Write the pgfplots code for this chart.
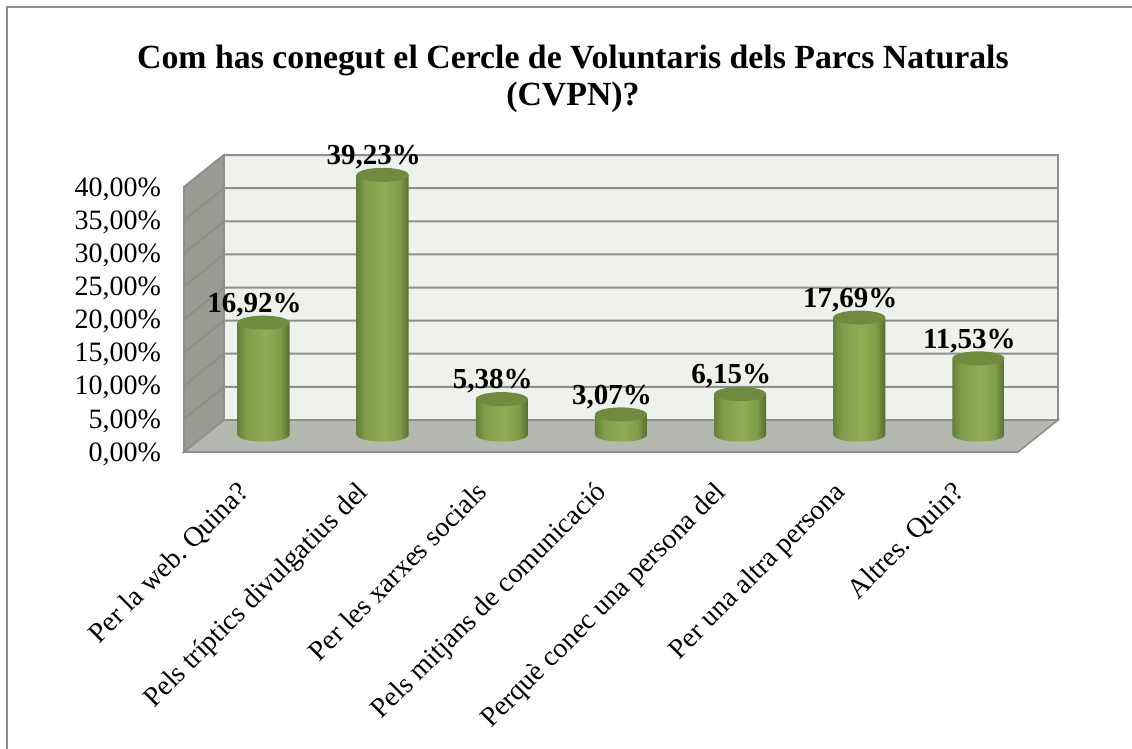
\documentclass[border=0pt]{standalone}
\usepackage{fontspec}
\setmainfont{Liberation Serif}
\usepackage{pgfplots}
\usepackage{pgfplotstable}
\pgfplotsset{compat=1.18}
\definecolor{wallback}{HTML}{EFF2EC}
\definecolor{wallside}{HTML}{9A9C94}
\definecolor{floorgray}{HTML}{B5B8B0}
\definecolor{edgegray}{HTML}{8E8F8B}
\definecolor{cylleft}{HTML}{64803A}
\definecolor{cylmid}{HTML}{7F9D4A}
\definecolor{cyllight}{HTML}{8FAE55}
\definecolor{cylright}{HTML}{566C2E}
\definecolor{cyltop}{HTML}{6F8B40}
\pgfdeclarehorizontalshading{cylgrad}{100bp}{color(0bp)=(cylleft); color(25bp)=(cylleft); color(33bp)=(cylmid); color(52bp)=(cyllight); color(66bp)=(cylmid); color(75bp)=(cylright); color(100bp)=(cylright)}

% values in percent, one per answer
\pgfplotstableread{
pos val
0 16.92
1 39.23
2 5.38
3 3.07
4 6.15
5 17.69
6 11.53
}\answers

% cylinder hanging below its data point, half way into the depth of the box
\pgfdeclareplotmark{cyl}{%
  \pgfmathsetmacro{\b}{8.63-\val*3.3125}%
  \begin{scope}[cm={1,0.087,0,1,(0,0)}]
    \path[draw=none,shading=cylgrad]
      (-3pt,8.63pt) -- (-3pt,\b pt)
      arc[start angle=180,end angle=360,x radius=13pt,y radius=3.5pt]
      -- (23pt,8.63pt) -- cycle;
    \path[draw=none,fill=cyltop] (10pt,8.63pt) ellipse[x radius=13pt,y radius=3.5pt];
  \end{scope}%
}

\begin{document}
\frenchspacing
\begin{tikzpicture}
  \path[use as bounding box] (0pt,0pt) rectangle (566pt,374.5pt);
  \draw[edgegray,line width=1.25pt] (3.5pt,-2pt) -- (3.5pt,371pt) -- (568pt,371pt);
  \begin{axis}[
      at={(92pt,148.5pt)},
      anchor=south west,
      scale only axis,
      width=417pt,
      height=132.5pt,
      xmin=-0.5, xmax=6.5,
      ymin=0, ymax=40,
      clip=false,
      axis line style={draw=none},
      tick style={draw=none},
      xtick={0,1,2,3,4,5,6},
      xticklabels={Per la web. Quina?,Pels tríptics divulgatius del,Per les xarxes socials,Pels mitjans de comunicació,Perquè conec una persona del,Per una altra persona,Altres. Quin?},
      xticklabel style={rotate=45,anchor=north east,font=\fontsize{14}{16}\selectfont,xshift=-8.8pt,yshift=-3.8pt},
      ytick={0,5,10,15,20,25,30,35,40},
      yticklabel={\pgfmathprintnumber{\tick}\%},
      yticklabel style={font=\fontsize{14}{16}\selectfont,xshift=-8pt,yshift=-1pt,/pgf/number format/.cd,assume math mode=true,use comma,fixed,fixed zerofill,precision=2},
      title={Com has conegut el Cercle de Voluntaris dels Parcs Naturals\\(CVPN)?},
      title style={font=\bfseries\fontsize{16.9}{18.5}\selectfont,align=center,at={(axis description cs:0.4664,1.21)},anchor=south},
    ]
    % box
    \addplot[fill=wallback,draw=edgegray,line width=0.8pt] coordinates {(-0.1643,4.83) (6.8357,4.83) (6.8357,44.83) (-0.1643,44.83)} -- cycle;
    \addplot[fill=wallside,draw=edgegray,line width=0.8pt] coordinates {(-0.5,0) (-0.1643,4.83) (-0.1643,44.83) (-0.5,40)} -- cycle;
    % grid on the two walls
    \addplot[edgegray,line width=1pt] coordinates {(-0.5,5) (-0.1643,9.83) (6.8357,9.83)};
    \addplot[edgegray,line width=1pt] coordinates {(-0.5,10) (-0.1643,14.83) (6.8357,14.83)};
    \addplot[edgegray,line width=1pt] coordinates {(-0.5,15) (-0.1643,19.83) (6.8357,19.83)};
    \addplot[edgegray,line width=1pt] coordinates {(-0.5,20) (-0.1643,24.83) (6.8357,24.83)};
    \addplot[edgegray,line width=1pt] coordinates {(-0.5,25) (-0.1643,29.83) (6.8357,29.83)};
    \addplot[edgegray,line width=1pt] coordinates {(-0.5,30) (-0.1643,34.83) (6.8357,34.83)};
    \addplot[edgegray,line width=1pt] coordinates {(-0.5,35) (-0.1643,39.83) (6.8357,39.83)};
    \addplot[edgegray,line width=1pt] coordinates {(-0.5,40) (-0.1643,44.83) (6.8357,44.83)};
    % floor
    \addplot[fill=floorgray,draw=edgegray,line width=0.8pt] coordinates {(-0.5,0) (6.5,0) (6.8357,4.83) (-0.1643,4.83)} -- cycle;
    % cylinders with their labels
    \addplot[
      scatter,
      only marks,
      mark=cyl,
      point meta=y,
      visualization depends on={rawy \as \val},
      nodes near coords={\pgfmathprintnumber[assume math mode=true,use comma,fixed,fixed zerofill,precision=2]{\pgfplotspointmeta}\%},
      every node near coord/.append style={anchor=center,xshift=5.5pt,yshift=17.5pt,font=\bfseries\fontsize{14.5}{16}\selectfont,text=black},
    ] table[x=pos,y=val] {\answers};
  \end{axis}
\end{tikzpicture}
\end{document}
